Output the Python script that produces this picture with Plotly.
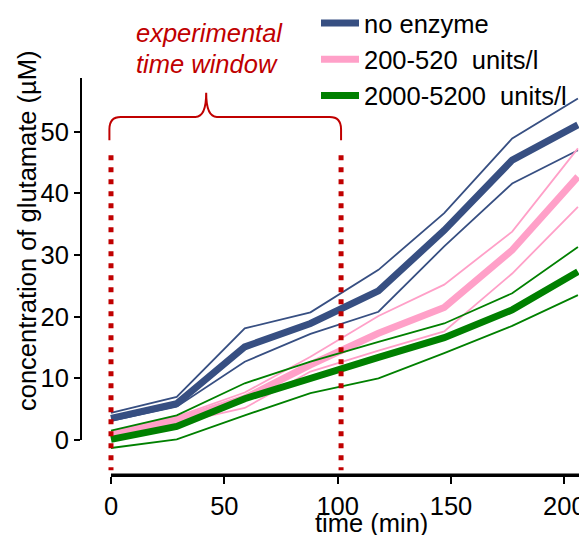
import plotly.graph_objects as go

# ---------------- data ----------------
time_min = [0, 29, 59, 88, 118, 147, 177, 206]

no_enzyme_mean = [3.5, 5.9, 15.1, 18.9, 24.2, 34.0, 45.4, 51.1]
no_enzyme_upper = [4.4, 7.0, 18.1, 20.7, 27.6, 36.8, 48.9, 55.4]
no_enzyme_lower = [3.1, 5.4, 12.7, 17.2, 20.8, 31.4, 41.6, 47.0]

low_mean = [0.8, 3.2, 6.8, 12.2, 17.3, 21.5, 30.8, 42.7]
low_upper = [1.4, 3.8, 7.7, 13.5, 20.1, 25.2, 33.8, 47.3]
low_lower = [0.3, 2.7, 5.2, 11.1, 14.5, 17.6, 27.0, 37.8]

high_mean = [0.1, 2.2, 6.7, 10.1, 13.4, 16.6, 21.1, 27.3]
high_upper = [1.5, 4.0, 9.2, 12.7, 15.9, 18.9, 23.8, 31.3]
high_lower = [-1.3, 0.1, 4.0, 7.6, 10.0, 14.1, 18.5, 23.5]

series_names = ["no enzyme", "200-520\u00a0 units/l", "2000-5200\u00a0 units/l"]
x_ticks = [0, 50, 100, 150, 200]
y_ticks = [0, 10, 20, 30, 40, 50]
window_start, window_end = 0, 101.5

# ---------------- style ----------------
FONT = "Arial, 'Liberation Sans', sans-serif"
FS = 25.5
BLUE = "#374F82"
PINK = "#FFA0C8"
GREEN = "#008000"
RED = "#C00000"

OFF = 8  # page body margin of the html page
W, H = 587 - OFF, 535 - OFF
ML, MR, MT = 81 - OFF, 0, 78 - OFF
MB = H - (476 - OFF)
PW, PH = W - ML - MR, H - MT - MB

X_RANGE = [-13.23, 210.0]
Y_RANGE = [-5.84, 58.71]
Y_PX = (Y_RANGE[1] - Y_RANGE[0]) / PH  # data units per pixel


def px2paper(px, py):
    """page pixel (as seen in the window) -> paper coords"""
    fx, fy = px - OFF, py - OFF
    return (fx - ML) / PW, (H - MB - fy) / PH


def xpaper(v):
    return (v - X_RANGE[0]) / (X_RANGE[1] - X_RANGE[0])


def ypaper(v):
    return (v - Y_RANGE[0]) / (Y_RANGE[1] - Y_RANGE[0])


fig = go.Figure()

groups = [
    (series_names[0], BLUE, no_enzyme_mean, no_enzyme_upper, no_enzyme_lower),
    (series_names[1], PINK, low_mean, low_upper, low_lower),
    (series_names[2], GREEN, high_mean, high_upper, high_lower),
]

for name, color, mean, upper, lower in groups:
    for band in (upper, lower):
        fig.add_trace(go.Scatter(x=time_min, y=band, mode="lines",
                                 line=dict(color=color, width=1.8),
                                 showlegend=False, hoverinfo="skip"))
    fig.add_trace(go.Scatter(x=time_min, y=mean, mode="lines", name=name,
                             line=dict(color=color, width=7)))

# x axis line (starts at x = 0 as in reference)
axis_y = Y_RANGE[0] + 1.2 * Y_PX
fig.add_trace(go.Scatter(x=[0, X_RANGE[1]], y=[axis_y, axis_y], mode="lines",
                         line=dict(color="black", width=2.4),
                         showlegend=False, hoverinfo="skip"))

# y axis line (ends at y = 0 as in reference)
fig.add_shape(type="line", xref="paper", yref="paper", x0=0, x1=0,
              y0=ypaper(0), y1=1, line=dict(color="black", width=2))
fig.add_shape(type="line", xref="paper", yref="paper", x0=xpaper(0), x1=1,
              y0=0, y1=0, line=dict(color="black", width=2))

# experimental window dotted lines
for xv in (window_start, window_end):
    fig.add_shape(type="line", xref="x", yref="y", x0=xv, x1=xv, y0=46.2, y1=-4.9,
                  line=dict(color=RED, width=5, dash="5px,7px"), layer="above")

# curly brace over window
x0, x1 = window_start - 0.7, window_end
tip = 42.0
yb, yh, yt = 48.6, 52.4, 56.3
r = 5.0
path = (f"M {x0},{yb} L {x0},{yh-2} Q {x0},{yh} {x0+r},{yh} L {tip-4.7},{yh} "
        f"Q {tip},{yh} {tip},{yt} Q {tip},{yh} {tip+4.7},{yh} L {x1-r},{yh} "
        f"Q {x1},{yh} {x1},{yh-2} L {x1},{yb}")
fig.add_shape(type="path", xref="x", yref="y", path=path,
              line=dict(color=RED, width=2))

# annotation text
ax, ay = px2paper(209, 33)
fig.add_annotation(xref="paper", yref="paper", x=ax, y=ay, text="<i>experimental</i>",
                   showarrow=False, font=dict(family=FONT, size=FS, color=RED),
                   xanchor="center", yanchor="middle")
ax, ay = px2paper(207, 64)
fig.add_annotation(xref="paper", yref="paper", x=ax, y=ay, text="<i>time window</i>",
                   showarrow=False, font=dict(family=FONT, size=FS, color=RED),
                   xanchor="center", yanchor="middle")

# axis titles
ax, ay = px2paper(371, 523)
fig.add_annotation(xref="paper", yref="paper", x=ax, y=ay, text="time (min)",
                   showarrow=False, font=dict(family=FONT, size=FS, color="black"),
                   xanchor="center", yanchor="middle")
ax, ay = px2paper(27, 231)
fig.add_annotation(xref="paper", yref="paper", x=ax, y=ay,
                   text="concentration of glutamate (\u00b5M)", textangle=-90,
                   showarrow=False, font=dict(family=FONT, size=FS, color="black"),
                   xanchor="center", yanchor="middle")

lx, ly = px2paper(316, 0)
fig.update_layout(
    width=W, height=H,
    margin=dict(l=ML, r=MR, t=MT, b=MB, pad=0, autoexpand=False),
    paper_bgcolor="white", plot_bgcolor="white",
    font=dict(family=FONT, size=FS, color="black"),
    showlegend=True,
    legend=dict(x=lx, y=ly, xanchor="left", yanchor="top",
                itemwidth=38, bgcolor="rgba(0,0,0,0)",
                font=dict(family=FONT, size=FS), borderwidth=0),
    xaxis=dict(range=X_RANGE, showgrid=False, zeroline=False, showline=False,
               tickmode="array", tickvals=x_ticks, ticks="outside", ticklen=7,
               tickwidth=2, tickcolor="black", tickfont=dict(size=FS)),
    yaxis=dict(range=Y_RANGE, showgrid=False, zeroline=False, showline=False,
               tickmode="array", tickvals=y_ticks, ticks="outside", ticklen=6,
               tickwidth=2, tickcolor="black", tickfont=dict(size=FS)),
)

fig.write_html("out.html")
